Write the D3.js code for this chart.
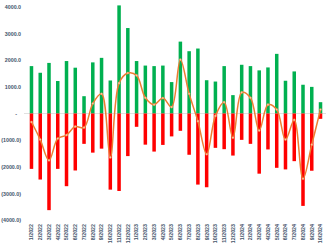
<!DOCTYPE html>
<html>
<head>
<meta charset="utf-8">
<script src="https://cdn.jsdelivr.net/npm/d3@7"></script>
<style>
  body { margin: 0; background: #fff; }
  svg { display: block; }
</style>
</head>
<body>
<div id="chart"></div>
<script>
// data
var months = ["1/2022","2/2022","3/2022","4/2022","5/2022","6/2022","7/2022","8/2022","9/2022","10/2022","11/2022","12/2022",
              "1/2023","2/2023","3/2023","4/2023","5/2023","6/2023","7/2023","8/2023","9/2023","10/2023","11/2023","12/2023",
              "1/2024","2/2024","3/2024","4/2024","5/2024","6/2024","7/2024","8/2024","9/2024","10/2024"];
var inflow  = [1780, 1530, 1900, 1220, 1970, 1720, 650, 1920, 2090, 1240, 4060, 3210,
               1970, 1800, 1780, 1800, 1180, 2700, 2340, 2440, 1250, 1200, 1780, 690,
               1830, 1780, 1620, 1730, 2240, 1230, 1580, 1080, 1000, 425];
var outflow = [-2080, -2480, -3630, -2080, -2730, -2140, -1140, -1470, -1320, -2860, -2910, -1600,
               -500, -1170, -1430, -1180, -860, -650, -1550, -2670, -2770, -1290, -1340, -1580,
               -990, -1140, -2260, -1350, -2040, -2100, -1790, -3470, -2150, -200];
var net     = [-320, -980, -1760, -940, -810, -490, -530, 375, 740, -1650, 1140, 1520,
               1430, 590, 330, 580, 240, 2020, 740, -290, -1530, -90, 425, -910,
               790, 590, -640, 330, 150, -980, -240, -2450, -1170, 150];
var yTicks  = [4000, 3000, 2000, 1000, 0, -1000, -2000, -3000, -4000];

var W = 326, H = 245;
var color = { pos: "#00b050", neg: "#ff0000", line: "#ed7d31", dot: "#f8cbad", text: "#44546a", zero: "#d9d9d9" };

var svg = d3.select("#chart").append("svg").attr("width", W).attr("height", H);

var x = d3.scaleBand().domain(months).range([27.1, 324.9]).paddingInner(0.6).paddingOuter(0.3);
var y = d3.scaleLinear().domain([-4000, 4000]).range([220, 7]);

function fmt(v) {
  if (v === 0) return "-";
  var s = d3.format(".1f")(Math.abs(v));
  return v < 0 ? "(" + s + ")" : s;
}

// y axis labels
var yAxis = d3.axisLeft(y).tickValues(yTicks).tickSize(0).tickPadding(0).tickFormat(fmt);
var ya = svg.append("g").attr("transform", "translate(21,0)").call(yAxis);
ya.select(".domain").remove();
ya.selectAll("text").attr("fill", color.text).attr("font-family", "Liberation Sans, Arial, sans-serif")
  .attr("font-size", 5.3).attr("font-weight", "bold")
  .attr("dx", function(d) { return d === 0 ? -4 : 0; });

// zero line
svg.append("line").attr("x1", 24).attr("x2", W).attr("y1", y(0)).attr("y2", y(0))
   .attr("stroke", color.zero).attr("stroke-width", 0.8);

// bars
svg.append("g").selectAll("rect").data(inflow).join("rect")
   .attr("x", function(d, i) { return x(months[i]); }).attr("width", x.bandwidth())
   .attr("y", function(d) { return y(d); }).attr("height", function(d) { return y(0) - y(d); })
   .attr("fill", color.pos);
svg.append("g").selectAll("rect").data(outflow).join("rect")
   .attr("x", function(d, i) { return x(months[i]); }).attr("width", x.bandwidth())
   .attr("y", y(0)).attr("height", function(d) { return y(d) - y(0); })
   .attr("fill", color.neg);

// net line
var cx = function(d, i) { return x(months[i]) + x.bandwidth() / 2; };
var line = d3.line().x(cx).y(function(d) { return y(d); }).curve(d3.curveCatmullRom.alpha(0.5));
svg.append("path").datum(net).attr("d", line).attr("fill", "none")
   .attr("stroke", color.line).attr("stroke-width", 1.5);
svg.append("g").selectAll("circle").data(net).join("circle")
   .attr("cx", cx).attr("cy", function(d) { return y(d); }).attr("r", 1.1)
   .attr("fill", color.dot).attr("stroke", color.line).attr("stroke-width", 0.4);

// x labels
svg.append("g").selectAll("text").data(months).join("text")
   .attr("transform", function(d) { return "translate(" + (x(d) + x.bandwidth() / 2) + ",224) rotate(-90)"; })
   .attr("text-anchor", "end").attr("dy", "0.35em")
   .attr("fill", color.text).attr("font-family", "Liberation Sans, Arial, sans-serif")
   .attr("font-size", 5.3).attr("font-weight", "bold")
   .text(function(d) { return d; });
</script>
</body>
</html>
